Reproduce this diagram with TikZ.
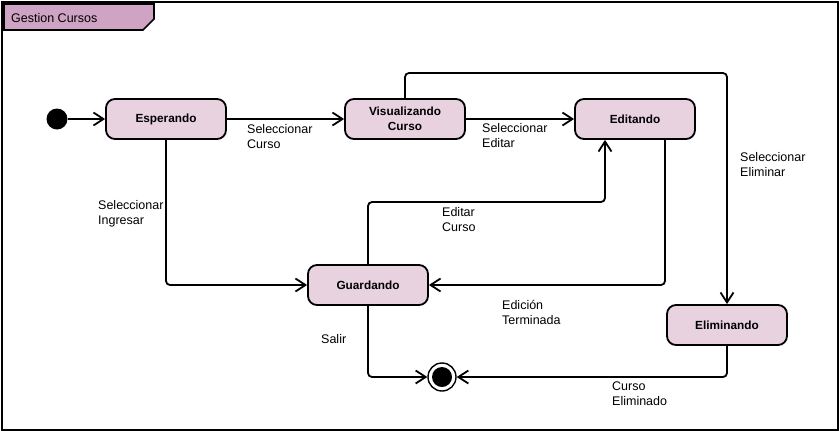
\documentclass[tikz,border=0pt]{standalone}
\usepackage{fontspec}
\setmainfont{Liberation Sans}
\usetikzlibrary{arrows.meta,calc}
\definecolor{nodefill}{RGB}{232,210,224}
\definecolor{tabfill}{RGB}{207,163,195}
\tikzset{
  state/.style={draw=black, line width=1.8pt, fill=nodefill, rounded corners=9pt,
    minimum width=120pt, minimum height=40pt, align=center, inner sep=0pt,
    font={\fontsize{11.8}{15.5}\selectfont\bfseries}},
  lbl/.style={anchor=north west, inner sep=0pt, align=left,
    font={\fontsize{12.5}{15}\selectfont}},
  conn/.style={line width=1.8pt, rounded corners=4pt,
    -{Straight Barb[length=10pt,width=13pt]}},
}
\begin{document}
\begin{tikzpicture}[x=1pt,y=-1pt]
\useasboundingbox (0,0) rectangle (840,432);
\draw[line width=2pt] (2,2) rectangle (838,430);
% title tab
\draw[line width=1.6pt, fill=tabfill] (4,4) -- (154,4) -- (154,19) -- (143,30) -- (4,30) -- cycle;
\node[anchor=west, inner sep=0pt, font={\fontsize{12.5}{15}\selectfont}] (title) at (11,18) {Gestion Cursos};
% states
\node[circle, fill=black, minimum size=21pt, inner sep=0pt] (init) at (57,119) {};
\node[state] (esp) at (166,119) {Esperando};
\node[state] (vis) at (405,119) {Visualizando\\Curso};
\node[state] (edi) at (635,119) {Editando};
\node[state] (gua) at (368,285) {Guardando};
\node[state] (eli) at (727,325) {Eliminando};
\node[circle, draw=black, line width=1.4pt, fill=white, minimum size=28pt, inner sep=0pt] (fin) at (442,377) {};
\node[circle, fill=black, minimum size=20pt, inner sep=0pt] (finin) at (fin.center) {};
% connectors
\draw[conn] (init) -- (esp);
\draw[conn] (esp) -- (vis);
\draw[conn] (vis) -- (edi);
\draw[conn] (vis.north) -- (vis.north |- 0,73) -| (eli.north);
\draw[conn] (esp.south) |- (gua.west);
\draw[conn] ([xshift=30pt]edi.south) |- (gua.east);
\draw[conn] (gua.north) -- (gua.north |- 0,202) -| ([xshift=-30pt]edi.south);
\draw[conn] (gua.south) |- (fin.west);
\draw[conn] (eli.south) |- (fin.east);
% labels
\node[lbl] (l1) at (247,124.5) {Seleccionar\\Curso};
\node[lbl] (l2) at (482,123.5) {Seleccionar\\Editar};
\node[lbl] (l3) at (740,152.5) {Seleccionar\\Eliminar};
\node[lbl] (l4) at (98,200.5) {Seleccionar\\Ingresar};
\node[lbl] (l5) at (442,207.5) {Editar\\Curso};
\node[lbl] (l6) at (502,300) {Edición\\Terminada};
\node[lbl] (l7) at (321,334.5) {Salir};
\node[lbl] (l8) at (612,381.5) {Curso\\Eliminado};
\end{tikzpicture}
\end{document}
